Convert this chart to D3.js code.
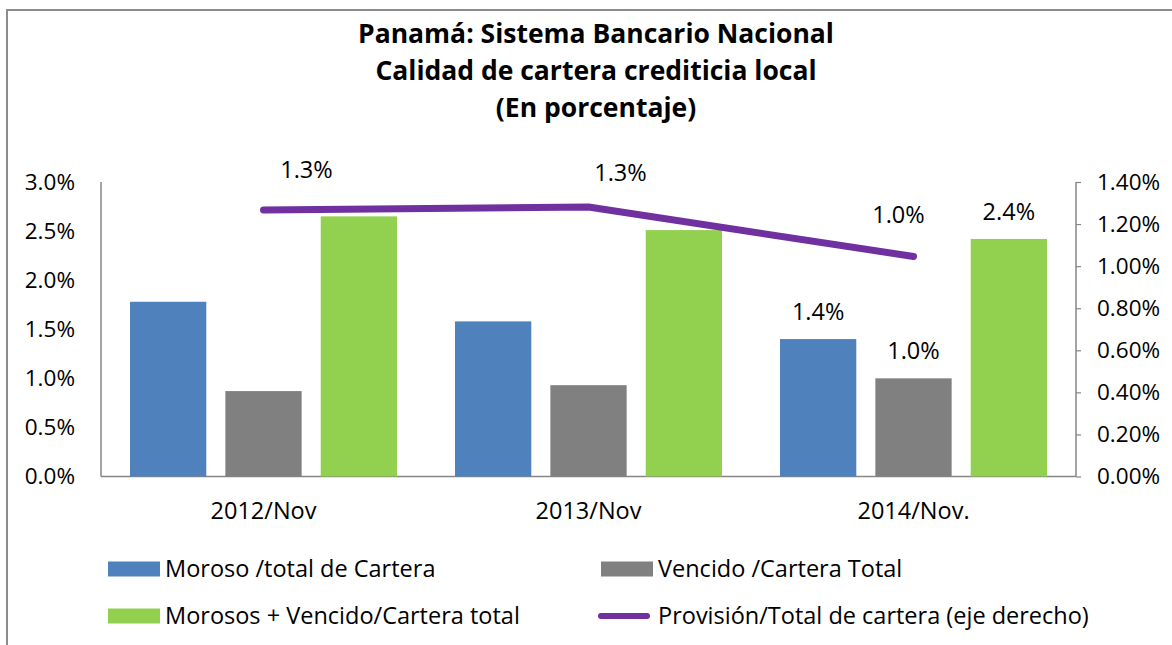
<!DOCTYPE html>
<html>
<head>
<meta charset="utf-8">
<script src="https://cdn.jsdelivr.net/npm/d3@7"></script>
<style>
  body { margin: 0; background: #fff; }
  svg { font-family: "Open Sans", Lato, sans-serif; }
</style>
</head>
<body>
<div class="graph"></div>
<script>
// chart data
const categories = ['2012/Nov', '2013/Nov', '2014/Nov.'];
const moroso = [0.0178, 0.0158, 0.0140];
const vencido = [0.0087, 0.0093, 0.0100];
const morososVencido = [0.0265, 0.0251, 0.0242];
const provision = [0.01267, 0.01281, 0.01046];
const leftTicks = [0, 0.005, 0.01, 0.015, 0.02, 0.025, 0.03];
const rightTicks = [0, 0.002, 0.004, 0.006, 0.008, 0.01, 0.012, 0.014];
const titleLines = ['Panamá: Sistema Bancario Nacional', 'Calidad de cartera crediticia local', '(En porcentaje)'];
const seriesNames = ['Moroso /total de Cartera', 'Vencido /Cartera Total', 'Morosos + Vencido/Cartera total', 'Provisión/Total de cartera (eje derecho)'];

const colors = { moroso: '#4f81bd', vencido: '#808080', total: '#92d050', provision: '#7030a0', axis: '#868686' };

const width = 1172, height = 645;
const plot = { left: 101, right: 1076, top: 182, bottom: 476.5 };
const font = '"Open Sans", Lato, sans-serif';
const labelSize = 23.5, tickSize = 22.5;

const svg = d3.select('.graph').append('svg')
    .attr('width', width)
    .attr('height', height);

// outer frame
svg.append('rect')
    .attr('x', 7).attr('y', 10)
    .attr('width', 1200).attr('height', 700)
    .attr('fill', 'none')
    .attr('stroke', '#8c8c8c')
    .attr('stroke-width', 2);

// title
svg.append('g').selectAll('text')
    .data(titleLines).enter().append('text')
        .attr('x', 596)
        .attr('y', (d, i) => 43 + i * 37)
        .attr('text-anchor', 'middle')
        .attr('font-weight', 'bold')
        .attr('font-size', 26.5)
        .text(d => d);

// scales
const x0 = d3.scaleBand().domain(categories).range([plot.left, plot.right]).paddingOuter(0);
const x1 = d3.scaleBand().domain([0, 1, 2]).range([29, x0.bandwidth() - 29]).paddingInner(0.2);
const yLeft = d3.scaleLinear().domain([0, 0.03]).range([plot.bottom, plot.top]);
const yRight = d3.scaleLinear().domain([0, 0.014]).range([plot.bottom, plot.top]);

// axes
const leftAxis = d3.axisLeft(yLeft).tickValues(leftTicks).tickFormat(d3.format('.1%')).tickSize(0).tickPadding(26);
const rightAxis = d3.axisRight(yRight).tickValues(rightTicks).tickFormat(d3.format('.2%')).tickSize(5).tickPadding(16);

const gl = svg.append('g')
    .attr('transform', 'translate(' + plot.left + ',0)')
    .call(leftAxis);
const gr = svg.append('g')
    .attr('transform', 'translate(' + plot.right + ',0)')
    .call(rightAxis);
[gl, gr].forEach(g => {
    g.select('.domain').attr('stroke', colors.axis).attr('stroke-width', 1.5)
        .attr('d', 'M0,' + plot.top + 'V' + plot.bottom);
    g.selectAll('.tick line').attr('stroke', colors.axis).attr('stroke-width', 1.2);
    g.selectAll('.tick text').attr('font-size', tickSize).attr('font-family', font).attr('fill', '#000');
});

// bottom axis
const gx = svg.append('g')
    .attr('transform', 'translate(0,' + plot.bottom + ')')
    .call(d3.axisBottom(x0).tickSize(0).tickPadding(26));
gx.select('.domain').attr('stroke', colors.axis).attr('stroke-width', 1.5).attr('d', 'M' + plot.left + ',0H' + plot.right);
gx.selectAll('.tick text').attr('font-size', labelSize).attr('font-family', font).attr('fill', '#000');

// bars
const series = [
    { key: 'moroso', values: moroso, color: colors.moroso },
    { key: 'vencido', values: vencido, color: colors.vencido },
    { key: 'total', values: morososVencido, color: colors.total }
];

series.forEach((s, si) => {
    svg.append('g').selectAll('rect')
        .data(s.values).enter().append('rect')
            .attr('x', (d, i) => x0(categories[i]) + x1(si))
            .attr('y', d => yLeft(d))
            .attr('width', x1.bandwidth())
            .attr('height', d => plot.bottom - yLeft(d))
            .attr('fill', s.color);
});

// bar labels (only last period labelled)
const last = categories.length - 1;
svg.append('g').selectAll('text')
    .data(series).enter().append('text')
        .attr('x', (s, si) => x0(categories[last]) + x1(si) + x1.bandwidth() / 2)
        .attr('y', s => yLeft(s.values[last]) - 19)
        .attr('text-anchor', 'middle')
        .attr('font-size', labelSize)
        .text(s => d3.format('.1%')(s.values[last]));

// provision line
const lineGen = d3.line()
    .x((d, i) => x0(categories[i]) + x0.bandwidth() / 2)
    .y(d => yRight(d));

svg.append('path')
    .datum(provision)
    .attr('d', lineGen)
    .attr('fill', 'none')
    .attr('stroke', colors.provision)
    .attr('stroke-width', 7)
    .attr('stroke-linecap', 'round')
    .attr('stroke-linejoin', 'round');

// line labels, nudged as in the original
const lineLabelOffsets = [[43, -32], [32, -26], [-15, -33]];
svg.append('g').selectAll('text')
    .data(provision).enter().append('text')
        .attr('x', (d, i) => x0(categories[i]) + x0.bandwidth() / 2 + lineLabelOffsets[i][0])
        .attr('y', (d, i) => yRight(d) + lineLabelOffsets[i][1])
        .attr('text-anchor', 'middle')
        .attr('font-size', labelSize)
        .text(d => d3.format('.1%')(d));

// legend
const legendItems = [
    { name: seriesNames[0], color: colors.moroso, type: 'rect', x: 108, y: 569 },
    { name: seriesNames[1], color: colors.vencido, type: 'rect', x: 601, y: 569 },
    { name: seriesNames[2], color: colors.total, type: 'rect', x: 108, y: 616 },
    { name: seriesNames[3], color: colors.provision, type: 'line', x: 601, y: 616 }
];

const legend = svg.append('g').selectAll('g')
    .data(legendItems).enter().append('g')
        .attr('transform', d => 'translate(' + d.x + ',' + d.y + ')');

legend.filter(d => d.type === 'rect').append('rect')
    .attr('x', 0).attr('y', -7.5)
    .attr('width', 52).attr('height', 15)
    .attr('fill', d => d.color);

legend.filter(d => d.type === 'line').append('line')
    .attr('x1', 0).attr('x2', 46)
    .attr('y1', 0).attr('y2', 0)
    .attr('stroke', d => d.color)
    .attr('stroke-width', 6)
    .attr('stroke-linecap', 'round');

legend.append('text')
    .attr('x', 57)
    .attr('y', 8)
    .attr('font-size', labelSize)
    .text(d => d.name);
</script>
</body>
</html>
